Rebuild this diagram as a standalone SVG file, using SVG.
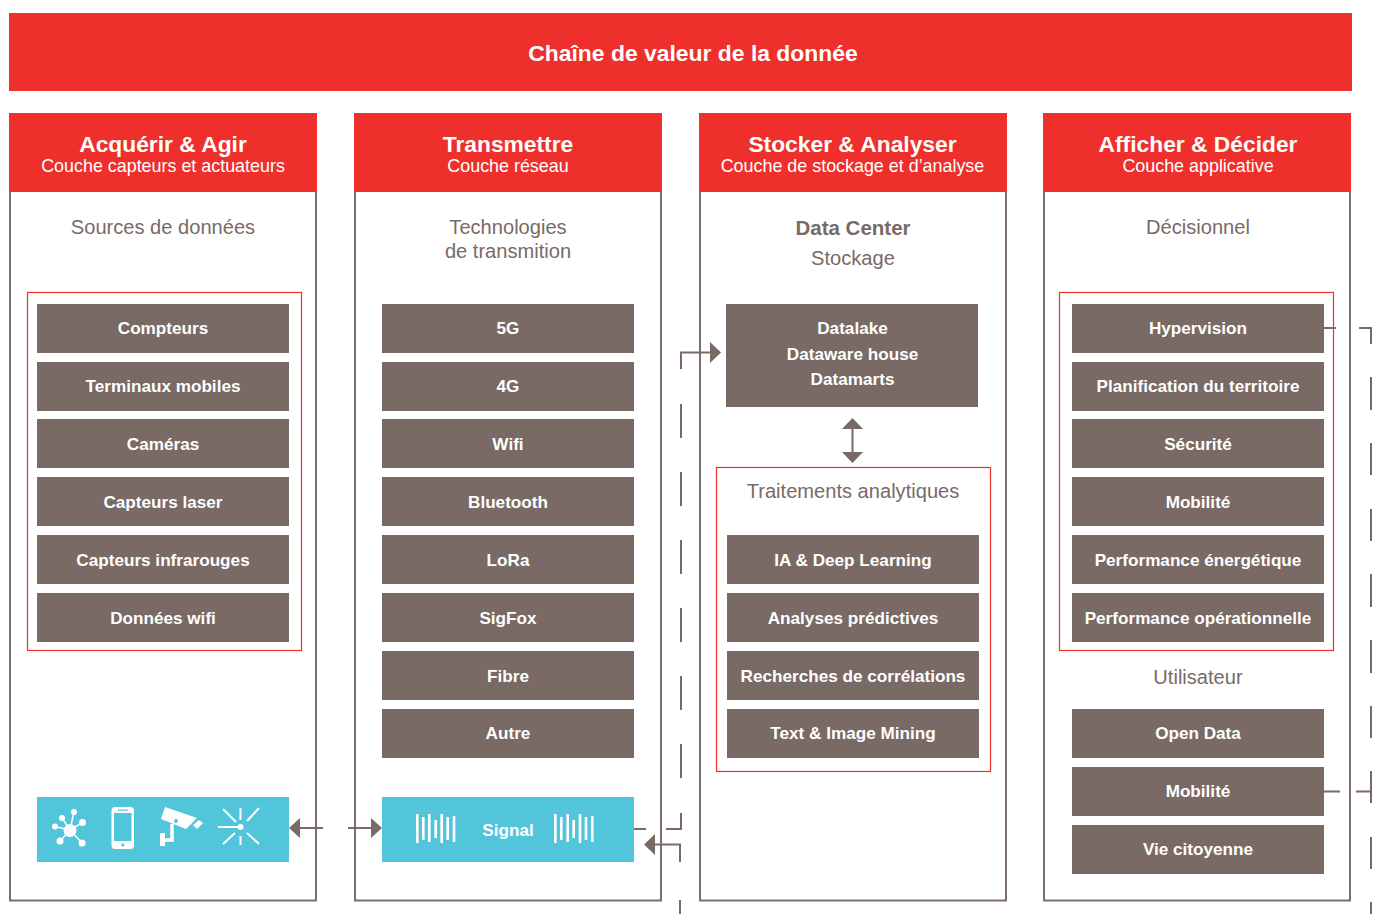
<svg xmlns="http://www.w3.org/2000/svg" width="1376" height="914" viewBox="0 0 1376 914">
<style>
text{font-family:"Liberation Sans",Arial,sans-serif;text-anchor:middle}
.red{fill:#ee2f2b}.panel{fill:#fff;stroke:#7d6e69;stroke-width:2}
.frame{fill:none;stroke:#ee2f2b;stroke-width:1.2}
.box{fill:#796a65}.cyan{fill:#52c5da}
.t{font-size:17.15px;font-weight:700;fill:#fff}
.h{font-size:22.8px;font-weight:700;fill:#fff}
.s{font-size:17.9px;fill:#fff}
.g{font-size:20.1px;fill:#796a65}
.l{fill:none;stroke:#796a65;stroke-width:2}
.a{fill:#796a65}
.w{fill:#fff}.ws{stroke:#fff;fill:none;stroke-width:2.4}
.bar{stroke:#fff;stroke-width:2.6}
</style>
<g id="banner"><rect class="red" x="9" y="13" width="1343" height="78"/><text class="h" x="693" y="61" style="font-size:22.9px">Chaîne de valeur de la donnée</text></g>
<g id="col1">
<rect class="panel" x="10" y="190" width="306" height="710.500"/>
<rect class="red" x="9" y="113" width="308" height="79"/>
<text class="h" x="163" y="152">Acquérir &amp; Agir</text><text class="s" x="163" y="172">Couche capteurs et actuateurs</text>
<text class="g" x="163" y="234">Sources de données</text>
<rect class="frame" x="27.500" y="292.500" width="274" height="358"/>
</g>
<g id="col2">
<rect class="panel" x="355" y="190" width="306" height="710.500"/>
<rect class="red" x="354" y="113" width="308" height="79"/>
<text class="h" x="508" y="152">Transmettre</text><text class="s" x="508" y="172">Couche réseau</text>
<text class="g" x="508" y="234">Technologies</text><text class="g" x="508" y="258">de transmition</text>
</g>
<g id="col3">
<rect class="panel" x="700" y="190" width="306" height="710.500"/>
<rect class="red" x="699" y="113" width="308" height="79"/>
<text class="h" x="852.500" y="152">Stocker &amp; Analyser</text><text class="s" x="852.500" y="172">Couche de stockage et d’analyse</text>
<text class="g" x="853" y="235" style="font-weight:700;font-size:20.5px">Data Center</text><text class="g" x="853" y="265">Stockage</text>
<rect class="frame" x="716.500" y="467.500" width="274" height="304"/>
<text class="g" x="853" y="498">Traitements analytiques</text>
</g>
<g id="col4">
<rect class="panel" x="1044" y="190" width="306" height="710.500"/>
<rect class="red" x="1043" y="113" width="308" height="79"/>
<text class="h" x="1198" y="152">Afficher &amp; Décider</text><text class="s" x="1198" y="172">Couche applicative</text>
<text class="g" x="1198" y="234">Décisionnel</text>
<rect class="frame" x="1059.500" y="292.500" width="274" height="358"/>
<text class="g" x="1198" y="684">Utilisateur</text>
</g>
<g id="connectors">
<path class="l" d="M634 829H646M666 829H681V813M681 778V744M681 710V676M681 642V608M681 574V540M681 506V472M681 438V404M681 369V352.500H712"/>
<path class="a" d="M721 352.500L710 342V363Z"/>
<path class="l" d="M653 844.500H680V862M680 900V914"/>
<path class="a" d="M644 844.500L655 834V855Z"/>
<path class="l" d="M852.500 428V453"/>
<path class="a" d="M852.500 418L863 429H842ZM852.500 463L863 452H842Z"/>
<path class="l" d="M298 828H323M348 828H373"/>
<path class="a" d="M289 828L300 818V838ZM382 828L371 818V838Z"/>
<path class="l" d="M1324 328H1336M1359 328H1371V344M1371 377V410M1371 443V475M1371 509V541M1371 574V607M1371 640V673M1371 706V738M1371 771V803M1371 837V869M1371 902V914M1324 791.500H1340M1356 791.500H1371"/>
</g>
<g id="c1-compteurs"><rect class="box" x="37" y="304" width="252" height="49"/><text class="t" x="163" y="334">Compteurs</text></g>
<g id="c1-terminaux"><rect class="box" x="37" y="362" width="252" height="49"/><text class="t" x="163" y="392">Terminaux mobiles</text></g>
<g id="c1-cameras"><rect class="box" x="37" y="419" width="252" height="49"/><text class="t" x="163" y="450">Caméras</text></g>
<g id="c1-laser"><rect class="box" x="37" y="477" width="252" height="49"/><text class="t" x="163" y="508">Capteurs laser</text></g>
<g id="c1-infra"><rect class="box" x="37" y="535" width="252" height="49"/><text class="t" x="163" y="566">Capteurs infrarouges</text></g>
<g id="c1-wifi"><rect class="box" x="37" y="593" width="252" height="49"/><text class="t" x="163" y="624">Données wifi</text></g>
<g id="c1-icons"><rect class="cyan" x="37" y="797" width="252" height="65"/>
<g class="w"><circle cx="70" cy="830.500" r="6.500"/><circle cx="74" cy="812" r="3"/><circle cx="62" cy="818" r="3"/><circle cx="82.500" cy="822.500" r="3.500"/><circle cx="55" cy="826.500" r="3"/><circle cx="60" cy="841" r="3.500"/><circle cx="82" cy="843" r="3.500"/></g>
<path d="M70 830L74 812M70 830L62 818M70 830L82.500 822.500M70 830L55 826.500M70 830L60 841M70 830L82 843" stroke="#fff" stroke-width="1.500"/>
<rect class="w" x="111.500" y="807" width="22.500" height="42" rx="3.500"/><rect class="cyan" x="114" y="813" width="17.500" height="28"/><rect class="cyan" x="118" y="809.500" width="10" height="1.200"/><circle class="cyan" cx="122.800" cy="845" r="1.600"/>
<path class="w" d="M165 807L197 818L186 829L161 819ZM193 825L199 820L203 823L197 829Z"/><circle class="cyan" cx="176" cy="821" r="2"/>
<path class="ws" style="stroke-width:3.500" d="M172 824V840H164"/><rect class="w" x="160" y="833" width="5" height="13"/>
<circle class="w" cx="240.500" cy="827" r="3"/>
<path class="ws" style="stroke-width:2" d="M218 827H240M240.500 808V820M240.500 836V845M223 809L236 822M259 808L247 821M223 844L235 833M259 844L247 833"/>
</g>
<g id="c2-5g"><rect class="box" x="382" y="304" width="252" height="49"/><text class="t" x="508" y="334">5G</text></g>
<g id="c2-4g"><rect class="box" x="382" y="362" width="252" height="49"/><text class="t" x="508" y="392">4G</text></g>
<g id="c2-wifi"><rect class="box" x="382" y="419" width="252" height="49"/><text class="t" x="508" y="450">Wifi</text></g>
<g id="c2-bluetooth"><rect class="box" x="382" y="477" width="252" height="49"/><text class="t" x="508" y="508">Bluetooth</text></g>
<g id="c2-lora"><rect class="box" x="382" y="535" width="252" height="49"/><text class="t" x="508" y="566">LoRa</text></g>
<g id="c2-sigfox"><rect class="box" x="382" y="593" width="252" height="49"/><text class="t" x="508" y="624">SigFox</text></g>
<g id="c2-fibre"><rect class="box" x="382" y="651" width="252" height="49"/><text class="t" x="508" y="682">Fibre</text></g>
<g id="c2-autre"><rect class="box" x="382" y="709" width="252" height="49"/><text class="t" x="508" y="739">Autre</text></g>
<g id="c2-signal"><rect class="cyan" x="382" y="797" width="252" height="65"/><text class="t" x="508" y="836">Signal</text>
<path class="bar" d="M417.300 814V843M423.300 817V840M429.300 814V842M435.700 820V838M441.700 814V843M447.700 817V840M454 816V842M555.300 814V843M561.300 817V840M567.700 814V842M573.700 820V838M580 814V843M586 817V840M592.300 816V842"/></g>
<g id="c3-storage"><rect class="box" x="726" y="304" width="252" height="103"/><text class="t" x="852.500" y="334">Datalake</text><text class="t" x="852.500" y="360">Dataware house</text><text class="t" x="852.500" y="385">Datamarts</text></g>
<g id="c3-ia"><rect class="box" x="727" y="535" width="252" height="49"/><text class="t" x="853" y="566">IA &amp; Deep Learning</text></g>
<g id="c3-pred"><rect class="box" x="727" y="593" width="252" height="49"/><text class="t" x="853" y="624">Analyses prédictives</text></g>
<g id="c3-corr"><rect class="box" x="727" y="651" width="252" height="49"/><text class="t" x="853" y="682">Recherches de corrélations</text></g>
<g id="c3-mining"><rect class="box" x="727" y="709" width="252" height="49"/><text class="t" x="853" y="739">Text &amp; Image Mining</text></g>
<g id="c4-hyper"><rect class="box" x="1072" y="304" width="252" height="49"/><text class="t" x="1198" y="334">Hypervision</text></g>
<g id="c4-plan"><rect class="box" x="1072" y="362" width="252" height="49"/><text class="t" x="1198" y="392">Planification du territoire</text></g>
<g id="c4-secu"><rect class="box" x="1072" y="419" width="252" height="49"/><text class="t" x="1198" y="450">Sécurité</text></g>
<g id="c4-mob"><rect class="box" x="1072" y="477" width="252" height="49"/><text class="t" x="1198" y="508">Mobilité</text></g>
<g id="c4-energie"><rect class="box" x="1072" y="535" width="252" height="49"/><text class="t" x="1198" y="566">Performance énergétique</text></g>
<g id="c4-oper"><rect class="box" x="1072" y="593" width="252" height="49"/><text class="t" x="1198" y="624">Performance opérationnelle</text></g>
<g id="c4-open"><rect class="box" x="1072" y="709" width="252" height="49"/><text class="t" x="1198" y="739">Open Data</text></g>
<g id="c4-mob2"><rect class="box" x="1072" y="767" width="252" height="49"/><text class="t" x="1198" y="797">Mobilité</text></g>
<g id="c4-vie"><rect class="box" x="1072" y="825" width="252" height="49"/><text class="t" x="1198" y="855">Vie citoyenne</text></g>
</svg>
